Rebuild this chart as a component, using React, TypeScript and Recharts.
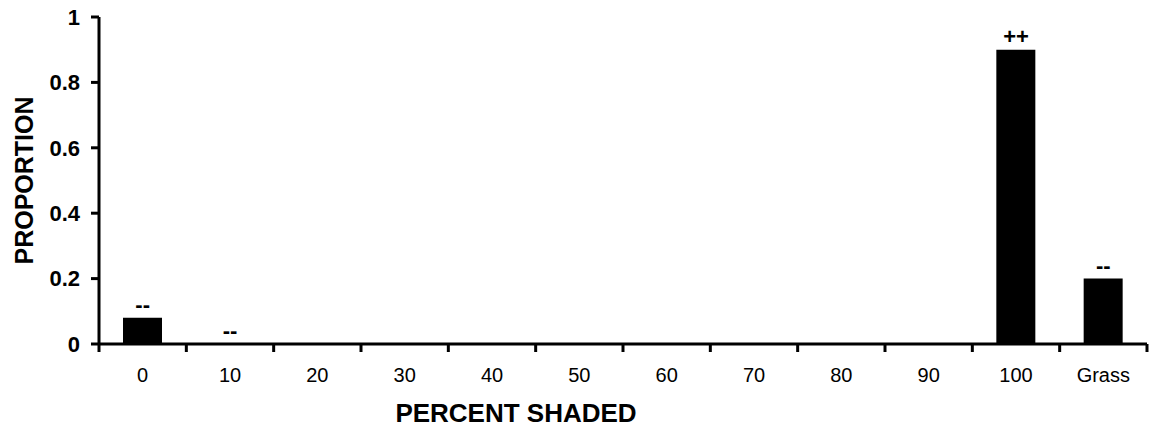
import { Bar, ComposedChart, Label, Scatter, XAxis, YAxis } from "recharts";

const categories = ["0", "10", "20", "30", "40", "50", "60", "70", "80", "90", "100", "Grass"];
const proportions = [0.08, 0, 0, 0, 0, 0, 0, 0, 0, 0, 0.9, 0.2];
const marks = ["--", "--", "", "", "", "", "", "", "", "", "++", "--"];
const yTicks = [0, 0.2, 0.4, 0.6, 0.8, 1];

const data = categories.map((shade, i) => ({
  shade,
  proportion: proportions[i],
  mark: marks[i],
}));

const W = 1149;
const H = 442;
const LEFT = 99;
const RIGHT = 2;
const TICK_SIZE = 8;
const TICK_MARGIN = 4;
const band = (W - LEFT - RIGHT) / categories.length;
const font = "'Liberation Sans', Arial, sans-serif";

function ShadeTick(props: any) {
  const { x, y, payload, index } = props;
  const axisY = y - TICK_SIZE - TICK_MARGIN;
  return (
    <g>
      <line x1={x - band / 2} x2={x - band / 2} y1={axisY} y2={axisY + 8} stroke="#000" strokeWidth={3} />
      {index === categories.length - 1 && (
        <line x1={x + band / 2} x2={x + band / 2} y1={axisY} y2={axisY + 8} stroke="#000" strokeWidth={3} />
      )}
      <text x={x} y={y + 26} textAnchor="middle" fontSize={20} fontFamily={font} fill="#000">
        {payload.value}
      </text>
    </g>
  );
}

// significance marks drawn just above each bar top (works for zero-height bars too)
function MarkShape(props: any) {
  const { cx, cy, payload } = props;
  if (!payload || !payload.mark) return <g />;
  return (
    <text x={cx} y={cy - 6} textAnchor="middle" fontSize={22} fontWeight="bold" fontFamily={font} fill="#000">
      {payload.mark}
    </text>
  );
}

function XTitle(props: any) {
  const { viewBox } = props;
  return (
    <text
      x={viewBox.x + viewBox.width / 2 - 107}
      y={viewBox.y + viewBox.height - 20}
      textAnchor="middle"
      fontSize={26}
      fontWeight="bold"
      fontFamily={font}
      fill="#000"
    >
      PERCENT SHADED
    </text>
  );
}

export default function App() {
  return (
    <div style={{ position: "absolute", left: 0, top: 0, background: "#fff" }}>
      <ComposedChart width={W} height={H} data={data} margin={{ top: 17, right: RIGHT, bottom: 0, left: 0 }}>
        <XAxis
          dataKey="shade"
          height={98}
          interval={0}
          tickLine={false}
          tickSize={TICK_SIZE}
          tickMargin={TICK_MARGIN}
          axisLine={{ stroke: "#000", strokeWidth: 3 }}
          tick={<ShadeTick />}
        >
          <Label content={<XTitle />} />
        </XAxis>
        <YAxis
          width={LEFT}
          domain={[0, 1]}
          ticks={yTicks}
          tickSize={8}
          tickMargin={11}
          axisLine={{ stroke: "#000", strokeWidth: 3 }}
          tickLine={{ stroke: "#000", strokeWidth: 3 }}
          tick={{ fontSize: 22, fontWeight: "bold", fontFamily: font, fill: "#000" }}
        >
          <Label
            value="PROPORTION"
            angle={-90}
            position="insideLeft"
            offset={24}
            style={{ textAnchor: "middle", fontSize: 25, fontWeight: "bold", fontFamily: font, fill: "#000" }}
          />
        </YAxis>
        <Bar dataKey="proportion" fill="#000" barSize={39} isAnimationActive={false} />
        <Scatter dataKey="proportion" shape={<MarkShape />} isAnimationActive={false} />
      </ComposedChart>
    </div>
  );
}
